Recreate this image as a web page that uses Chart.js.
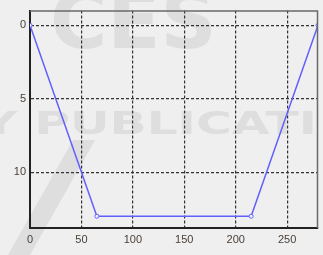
<!DOCTYPE html>
<html>
<head>
<meta charset="utf-8">
<script src="https://cdn.jsdelivr.net/npm/chart.js@4/dist/chart.umd.min.js"></script>
<style>
  html, body { margin: 0; padding: 0; background: #efefef; }
  #wrap { width: 323px; height: 255px; }
</style>
</head>
<body>
<div id="wrap"><canvas id="profileChart"></canvas></div>
<script>
// data
const xValues = [0, 65, 215, 280];
const yValues = [0, 13, 13, 0];
const xTicks = [0, 50, 100, 150, 200, 250];
const yTicks = [0, 5, 10];

// faint watermark behind, frame on top/right
const backdrop = {
  id: "backdrop",
  beforeDraw(chart) {
    const c = chart.ctx;
    c.save();
    c.fillStyle = "#efefef";
    c.fillRect(0, 0, chart.width, chart.height);
    c.fillStyle = "#dedede";
    c.font = "bold 78px 'DejaVu Sans'";
    c.fillText("CES", 50, 48);
    c.font = "bold 32px 'DejaVu Sans'";
    const w = c.measureText("Y PUBLICATI").width;
    c.save();
    c.scale(335 / w, 1);
    c.fillText("Y PUBLICATI", -18 * w / 335, 134);
    c.restore();
    // slash of the logo
    c.beginPath();
    c.moveTo(8, 255);
    c.lineTo(30, 255);
    c.lineTo(95, 140);
    c.lineTo(73, 140);
    c.closePath();
    c.fill();
    c.restore();
  },
  afterDraw(chart) {
    const a = chart.chartArea;
    const c = chart.ctx;
    c.save();
    c.strokeStyle = "#6a6a6a";
    c.lineWidth = 1.5;
    c.beginPath();
    c.moveTo(a.left, a.top + 0.5);
    c.lineTo(a.right - 0.5, a.top + 0.5);
    c.lineTo(a.right - 0.5, a.bottom);
    c.stroke();
    c.restore();
  }
};

const ctx = document.getElementById("profileChart").getContext("2d");
const profileChart = new Chart(ctx, {
  type: "line",
  data: {
    datasets: [
      {
        data: xValues.map((x, i) => ({ x: x, y: yValues[i] })),
        borderColor: "#6060ff",
        borderWidth: 1.5,
        pointRadius: 2,
        pointBorderWidth: 1,
        pointBackgroundColor: "#f4f4ff",
        pointBorderColor: "#6060ff",
        fill: false,
        tension: 0,
      },
    ],
  },
  options: {
    responsive: true,
    maintainAspectRatio: false,
    animation: false,
    layout: { padding: { top: 6, right: 5, left: 0, bottom: 0 } },
    plugins: { legend: { display: false }, tooltip: { enabled: false } },
    scales: {
      x: {
        type: "linear",
        min: 0,
        max: 280,
        afterBuildTicks: (s) => { s.ticks = xTicks.map((v) => ({ value: v })); },
        afterFit: (s) => { s.height = 27; },
        grid: { color: "#333", lineWidth: 1.2, drawTicks: false },
        border: { color: "#222", width: 2, dash: [3, 2] },
        ticks: { color: "#4a4038", padding: 5, font: { family: "Liberation Sans", size: 11 }, maxRotation: 0 },
      },
      y: {
        type: "linear",
        reverse: true,
        min: -1,
        max: 13.8,
        afterBuildTicks: (s) => { s.ticks = yTicks.map((v) => ({ value: v })); },
        afterFit: (s) => { s.width = 30; },
        grid: { color: "#333", lineWidth: 1.2, drawTicks: false },
        border: { color: "#222", width: 2, dash: [3, 2] },
        ticks: { color: "#4a4038", padding: 4, font: { family: "Liberation Sans", size: 11 } },
      },
    },
  },
  plugins: [backdrop],
});
</script>
</body>
</html>
